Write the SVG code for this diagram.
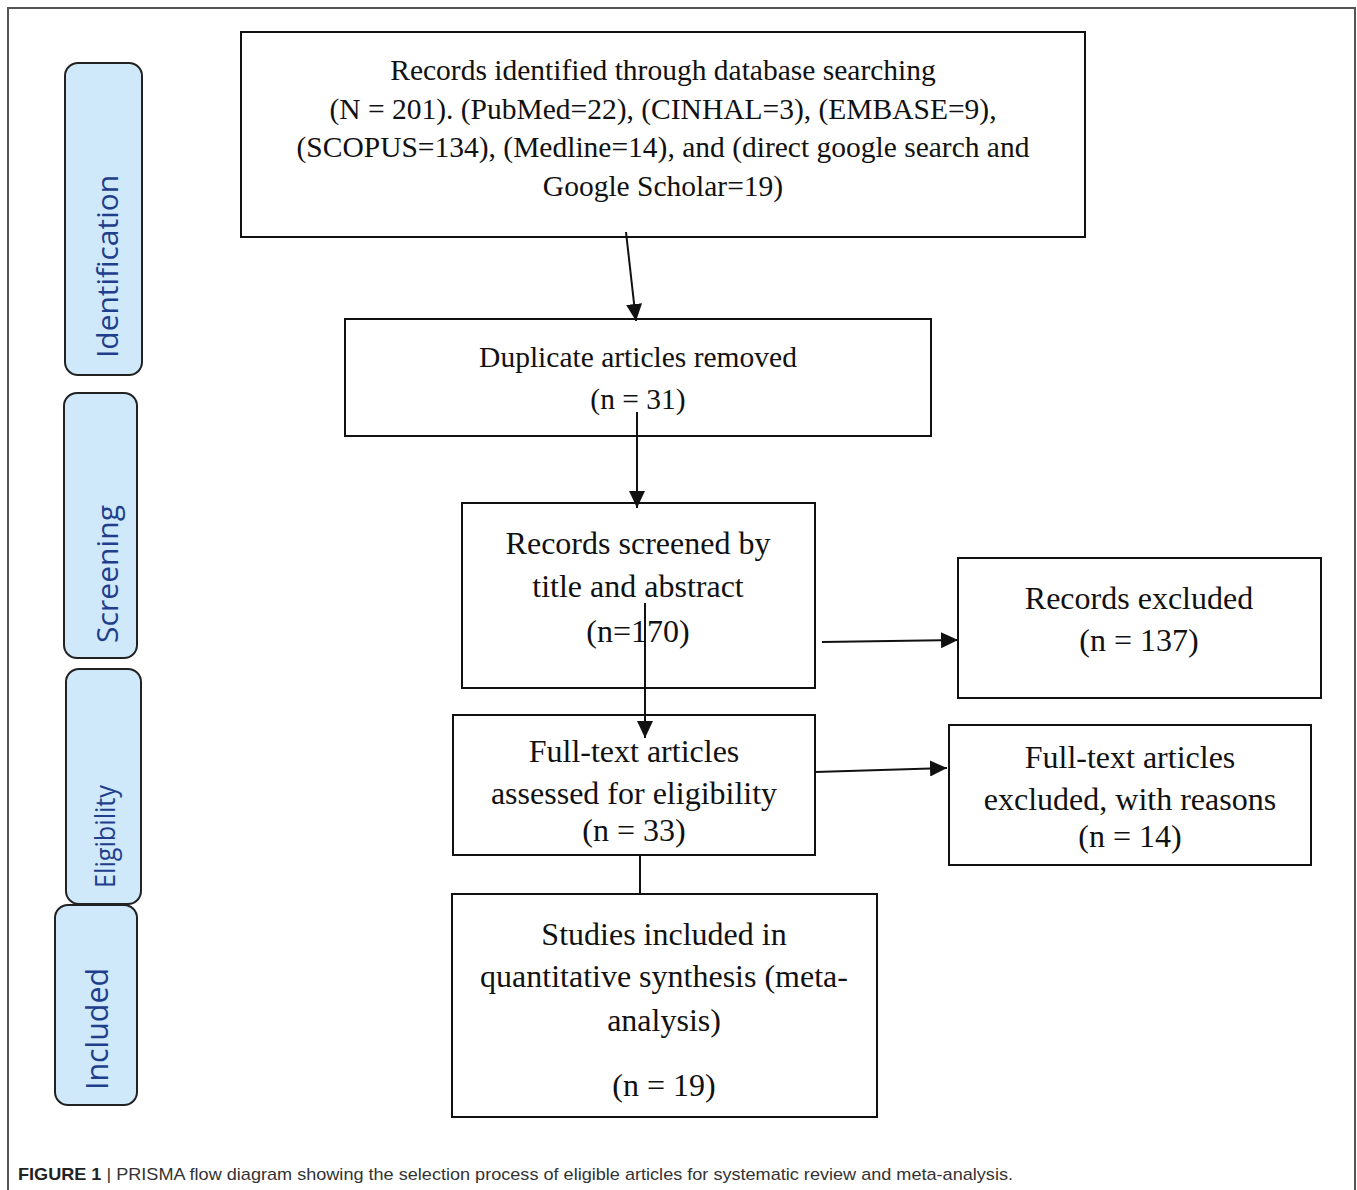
<svg xmlns="http://www.w3.org/2000/svg" width="1357" height="1190" viewBox="0 0 1357 1190">
<style>
.box{fill:#fff;stroke:#111;stroke-width:2}
.phase{fill:#cfe9fb;stroke:#222;stroke-width:2}
.pt{font-family:"Open Sans","Liberation Sans",sans-serif;fill:#1f3f8c}
.t{font-family:"Liberation Serif","Times New Roman",serif;fill:#111;text-anchor:middle}
.s29{font-size:29.5px}
.s32{font-size:32px}
.con{stroke:#111;stroke-width:2;fill:none}
.cap{font-family:"Liberation Sans",Arial,sans-serif;font-size:17px;fill:#333}
</style>
<defs>
<marker id="ah" markerUnits="userSpaceOnUse" markerWidth="18" markerHeight="16" refX="17" refY="8" orient="auto">
<path d="M0,0 L17,8 L0,16 Z" fill="#111"/>
</marker>
</defs>
<rect width="1357" height="1190" fill="#fff"/>
<path d="M8,1195 L8,8 L1355,8 L1355,1195" fill="none" stroke="#555" stroke-width="2"/>

<g id="phase-identification">
<rect class="phase" x="65" y="63" width="77" height="312" rx="13"/>
<text class="pt" transform="translate(118,358) rotate(-90)" font-size="30" textLength="183" lengthAdjust="spacingAndGlyphs">Identification</text>
</g>
<g id="phase-screening">
<rect class="phase" x="64" y="393" width="73" height="265" rx="13"/>
<text class="pt" transform="translate(118,643) rotate(-90)" font-size="30" textLength="138" lengthAdjust="spacingAndGlyphs">Screening</text>
</g>
<g id="phase-eligibility">
<rect class="phase" x="66" y="669" width="75" height="235" rx="13"/>
<text class="pt" transform="translate(115,888) rotate(-90)" font-size="27" textLength="103" lengthAdjust="spacingAndGlyphs">Eligibility</text>
</g>
<g id="phase-included">
<rect class="phase" x="55" y="905" width="82" height="200" rx="13"/>
<text class="pt" transform="translate(108,1090) rotate(-90)" font-size="31" textLength="122" lengthAdjust="spacingAndGlyphs">Included</text>
</g>

<g id="identified">
<rect class="box" x="241" y="32" width="844" height="205"/>
<text class="t s29" x="663" y="80">Records identified through database searching</text>
<text class="t s29" x="663" y="119">(N = 201). (PubMed=22), (CINHAL=3), (EMBASE=9),</text>
<text class="t s29" x="663" y="157">(SCOPUS=134), (Medline=14), and (direct google search and</text>
<text class="t s29" x="663" y="196">Google Scholar=19)</text>
</g>
<g id="duplicates">
<rect class="box" x="345" y="319" width="586" height="117"/>
<text class="t s29" x="638" y="367">Duplicate articles removed</text>
<text class="t s29" x="638" y="409">(n = 31)</text>
</g>
<g id="screened">
<rect class="box" x="462" y="503" width="353" height="185"/>
<text class="t s32" x="638" y="554">Records screened by</text>
<text class="t s32" x="638" y="597">title and abstract</text>
<text class="t s32" x="638" y="642">(n=170)</text>
</g>
<g id="excluded">
<rect class="box" x="958" y="558" width="363" height="140"/>
<text class="t s32" x="1139" y="609">Records excluded</text>
<text class="t s32" x="1139" y="651">(n = 137)</text>
</g>
<g id="fulltext">
<rect class="box" x="453" y="715" width="362" height="140"/>
<text class="t s32" x="634" y="762">Full-text articles</text>
<text class="t s32" x="634" y="804">assessed for eligibility</text>
<text class="t s32" x="634" y="841">(n = 33)</text>
</g>
<g id="fulltext-excluded">
<rect class="box" x="949" y="725" width="362" height="140"/>
<text class="t s32" x="1130" y="768">Full-text articles</text>
<text class="t s32" x="1130" y="810">excluded, with reasons</text>
<text class="t s32" x="1130" y="847">(n = 14)</text>
</g>
<g id="included">
<rect class="box" x="452" y="894" width="425" height="223"/>
<text class="t s32" x="664" y="945">Studies included in</text>
<text class="t s32" x="664" y="987">quantitative synthesis (meta-</text>
<text class="t s32" x="664" y="1031">analysis)</text>
<text class="t s32" x="664" y="1096">(n = 19)</text>
</g>

<g id="connectors">
<line class="con" x1="626" y1="232" x2="636" y2="321" marker-end="url(#ah)"/>
<line class="con" x1="637" y1="412" x2="637" y2="508" marker-end="url(#ah)"/>
<line class="con" x1="645" y1="603" x2="645" y2="738" marker-end="url(#ah)"/>
<line class="con" x1="822" y1="642" x2="958" y2="640" marker-end="url(#ah)"/>
<line class="con" x1="815" y1="772" x2="947" y2="768" marker-end="url(#ah)"/>
<line class="con" x1="640" y1="855" x2="640" y2="894"/>
</g>

<text class="cap" x="18" y="1180" textLength="995" lengthAdjust="spacingAndGlyphs"><tspan font-weight="bold" fill="#222">FIGURE 1</tspan> | PRISMA flow diagram showing the selection process of eligible articles for systematic review and meta-analysis.</text>
</svg>
